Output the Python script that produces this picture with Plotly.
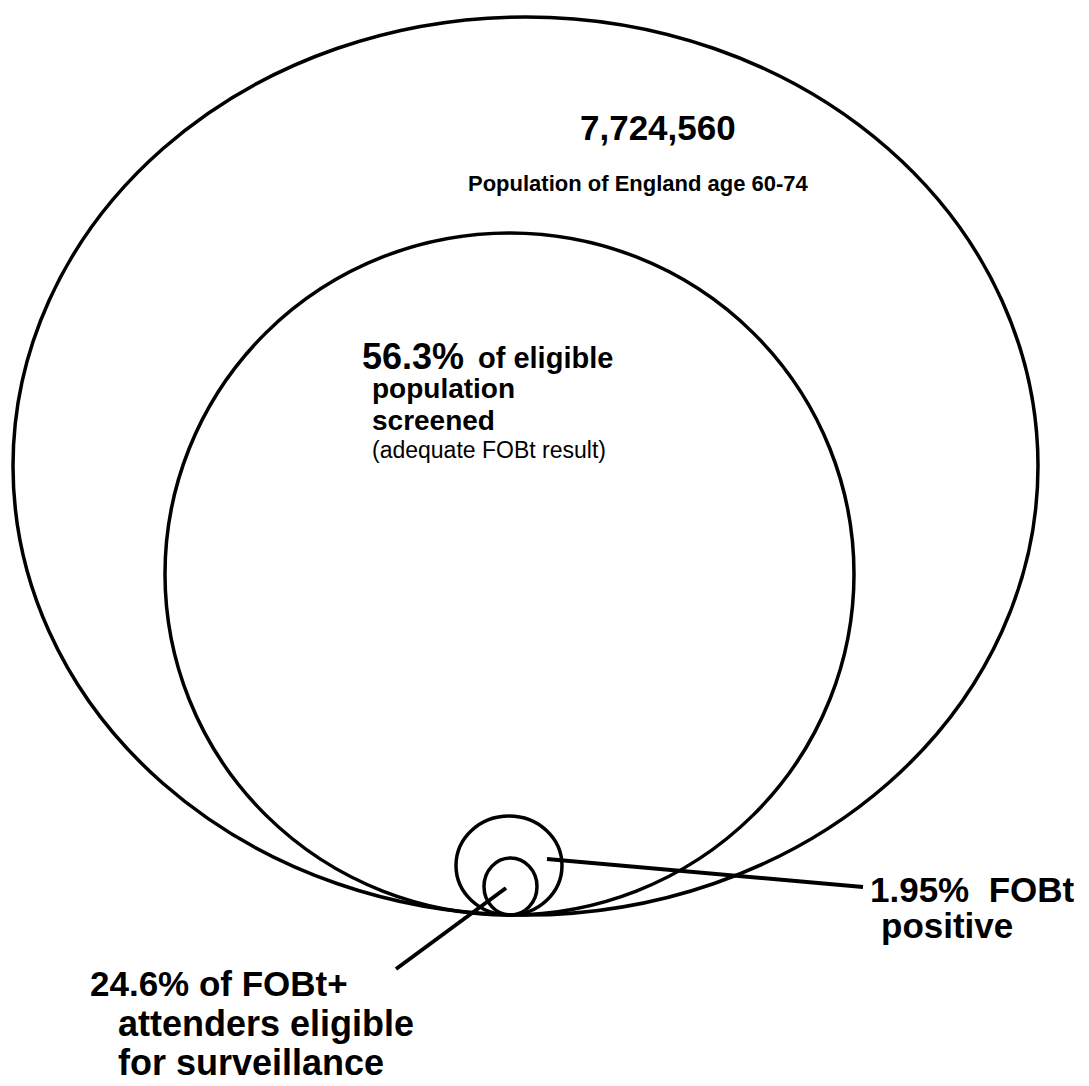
import plotly.graph_objects as go

# ----- Data ----- #
# nested populations, outermost first (bounds of each ellipse, in pixels of the 1089x1086 canvas)
circle_names = ["Population age 60-74", "Screened", "FOBt positive", "Eligible for surveillance"]
circle_x0 = [5, 157, 448, 476]
circle_x1 = [1030, 846, 554, 529]
circle_y0 = [9, 225, 808, 850]
circle_y1 = [907, 907, 907, 907]

population = "7,724,560"
screened_pct = "56.3%"
positive_pct = "1.95%"
surveillance_pct = "24.6%"

FONT = "Liberation Sans, Arial, sans-serif"
BLACK = "#000000"

fig = go.Figure()

# invisible trace so the axes exist
fig.add_trace(go.Scatter(x=[0, 1089], y=[0, 1086], mode="markers",
                         marker=dict(opacity=0), hoverinfo="skip", showlegend=False))

# ----- Circles ----- #
for name, x0, x1, y0, y1 in zip(circle_names, circle_x0, circle_x1, circle_y0, circle_y1):
    fig.add_shape(type="circle", xref="x", yref="y", x0=x0, x1=x1, y0=y0, y1=y1,
                  line=dict(color=BLACK, width=3.5), name=name)

# ----- Leader lines ----- #
fig.add_shape(type="line", x0=539, y0=851, x1=855, y1=879, line=dict(color=BLACK, width=4))
fig.add_shape(type="line", x0=498, y0=880, x1=388, y1=961, line=dict(color=BLACK, width=4))


def label(x, y, text, size, bold=True):
    fig.add_annotation(x=x, y=y, xref="x", yref="y", text=f"<b>{text}</b>" if bold else text,
                       showarrow=False, xanchor="left", yanchor="middle",
                       font=dict(family=FONT, size=size, color=BLACK))


# ----- Labels ----- #
label(570, 119, population, 35)
label(458, 175, "Population of England age 60-74", 22)

label(352, 348, screened_pct, 36)
label(468, 350, "of eligible", 29)
label(362, 380, "population", 28)
label(362, 412, "screened", 28)
label(362, 442, "(adequate FOBt result)", 23, bold=False)

label(860, 881, f"{positive_pct}&nbsp;&nbsp;FOBt", 35)
label(871, 917, "positive", 35)

label(80, 975, f"{surveillance_pct} of FOBt+", 35)
label(108, 1015, "attenders eligible", 36)
label(108, 1054, "for surveillance", 36)

# ----- Formatting ----- #
fig.update_layout(
    width=1089,
    height=1086,
    margin=dict(t=0, b=0, l=0, r=0),
    plot_bgcolor="white",
    paper_bgcolor="white",
    xaxis=dict(range=[0, 1089], visible=False),
    yaxis=dict(range=[1086, 0], visible=False),
    showlegend=False,
)

fig.write_html("out.html")
